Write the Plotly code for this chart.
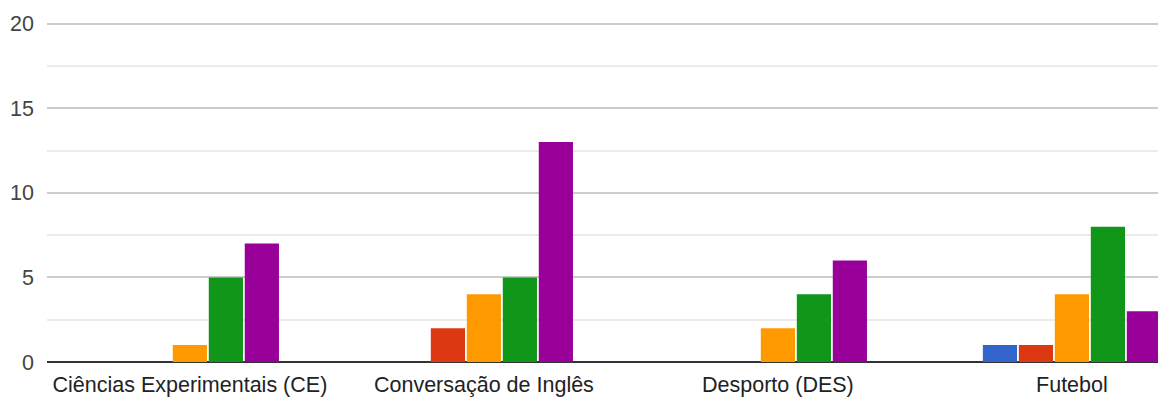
import plotly.graph_objects as go

categories = ["Ciências Experimentais (CE)", "Conversação de Inglês", "Desporto (DES)", "Futebol"]
series_names = ["1", "2", "3", "4", "5"]
values_1 = [0, 0, 0, 1]
values_2 = [0, 2, 0, 1]
values_3 = [1, 4, 2, 4]
values_4 = [5, 5, 4, 8]
values_5 = [7, 13, 6, 3]
colors = ["#3366cc", "#dc3912", "#ff9900", "#109618", "#990099"]
y_ticks = [0, 5, 10, 15, 20]

fig = go.Figure()
for name, vals, col in zip(series_names, [values_1, values_2, values_3, values_4, values_5], colors):
    fig.add_trace(go.Bar(
        x=list(range(len(categories))), y=vals, name=name,
        marker=dict(color=col, line=dict(width=0)),
        showlegend=False,
    ))

fig.update_layout(
    width=1166, height=403,
    margin=dict(l=39, r=8, t=14, b=49),
    paper_bgcolor="white", plot_bgcolor="white",
    barmode="group", bargap=0.388, bargroupgap=0.05,
    font=dict(family="Liberation Sans, Arial", size=21.5, color="#222222"),
    xaxis=dict(
        tickmode="array", tickvals=list(range(len(categories))), ticktext=categories,
        range=[-0.486, 3.32], showgrid=False, zeroline=False, showline=False,
        ticks="", tickfont=dict(size=21.5, color="#222222"), automargin=False,
        ticklabelstandoff=7,
    ),
    yaxis=dict(
        range=[0, 20.1], tickvals=y_ticks, showgrid=True, gridcolor="#cccccc", gridwidth=1.5,
        zeroline=True, zerolinecolor="#333333", zerolinewidth=1.5,
        tickfont=dict(size=21.5, color="#444444"), ticks="", ticklabelstandoff=12,
        minor=dict(dtick=2.5, showgrid=True, gridcolor="#ebebeb", gridwidth=1.5),
        automargin=False,
    ),
)
fig.write_html("out.html")
